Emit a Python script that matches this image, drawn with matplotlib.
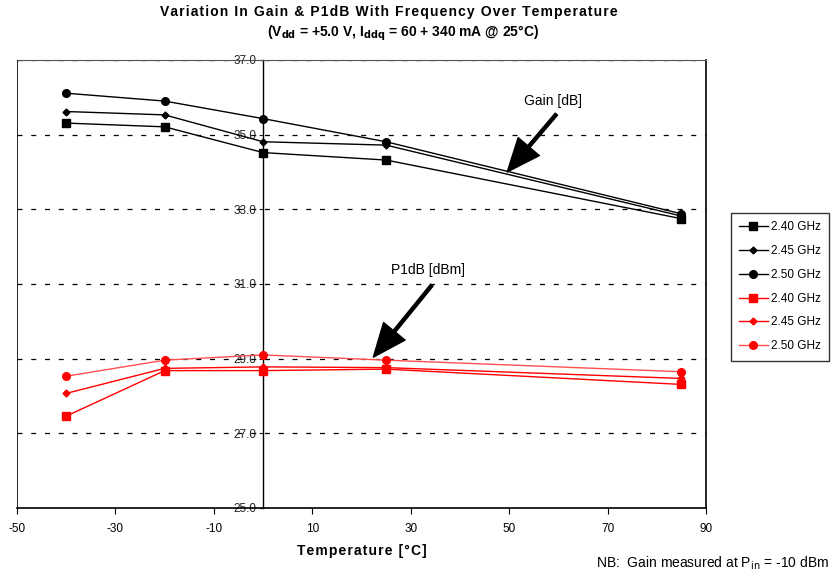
import matplotlib
matplotlib.use('agg')
import matplotlib.pyplot as plt

plt.rcParams['font.family'] = ['Liberation Sans', 'DejaVu Sans']
plt.rcParams['axes.unicode_minus'] = False

temps = [-40, -20, 0, 25, 85]
freqs = ["2.40 GHz", "2.45 GHz", "2.50 GHz"]

gain_240 = [35.31, 35.21, 34.52, 34.32, 32.75]
gain_245 = [35.62, 35.53, 34.81, 34.72, 32.82]
gain_250 = [36.11, 35.90, 35.43, 34.81, 32.88]

p1db_240 = [27.46, 28.68, 28.68, 28.72, 28.31]
p1db_245 = [28.07, 28.74, 28.78, 28.76, 28.47]
p1db_250 = [28.53, 28.96, 29.10, 28.96, 28.65]


def spaced(s):
    # rough letter spacing like the original chart title
    return "\u200a".join(s)


fig = plt.figure(figsize=(8.32, 5.72), dpi=100)
ax = fig.add_axes([17/832, 1-508/572, 689/832, 448/572])

markers = ['s', 'D', 'o']
msizes = [6, 3.5, 5.5]
for vals, lab, m, ms in zip([gain_240, gain_245, gain_250], freqs, markers, msizes):
    ax.plot(temps, vals, color='black', marker=m, ms=ms, lw=1, label=lab, zorder=3)
red_cols = ['#ff0000', '#ff0000', '#ff5050']
for vals, lab, m, ms, c in zip([p1db_240, p1db_245, p1db_250], freqs, markers, msizes, red_cols):
    ax.plot(temps, vals, color=c, marker=m, ms=ms, lw=1, label=lab,
            markerfacecolor='red', markeredgecolor='red', zorder=3)

ax.set_xlim(-50, 90)
ax.set_ylim(25, 37)
ax.set_xticks(range(-50, 91, 20))
ax.set_yticks(range(25, 38, 2))
ax.set_yticklabels(["%.1f" % v for v in range(25, 38, 2)])

# y axis sits at x = 0, box frame drawn separately
ax.spines['left'].set_position(('data', 0))
ax.spines['left'].set_linewidth(1)
ax.axvline(-50, color='black', lw=1.2, zorder=4)
ax.spines['right'].set_linewidth(1.2)
ax.spines['bottom'].set_linewidth(1.2)
ax.spines['top'].set_linewidth(0.8)
ax.spines['top'].set_color('#555555')

ax.yaxis.grid(True, color='black', linestyle=(0, (4, 7)), lw=0.9)
ax.set_axisbelow(True)
ax.tick_params(axis='y', direction='out', length=3, pad=2, labelsize=8.5, colors='#222222')
ax.tick_params(axis='x', direction='out', length=4, pad=7, labelsize=8.5)

ax.set_xlabel(spaced("Temperature [°C]"), fontsize=10, fontweight='bold', labelpad=6)

# annotations
arrow = dict(facecolor='black', edgecolor='black', width=2.2,
             headwidth=20, headlength=24, shrink=0.0)
ax.text(58.9, 35.9, "Gain [dB]", ha='center', va='center', fontsize=10)
ax.annotate("", xy=(49.6, 34.0), xytext=(59.6, 35.55), arrowprops=arrow, zorder=5)
ax.text(33.5, 31.37, "P1dB [dBm]", ha='center', va='center', fontsize=10)
ax.annotate("", xy=(22.4, 29.04), xytext=(34.3, 30.97), arrowprops=arrow, zorder=5)

fig.text(389/832, 1-12/572, spaced("Variation In Gain & P1dB With Frequency Over Temperature"),
         ha='center', va='center', fontsize=10, fontweight='bold')
fig.text(403/832, 1-33/572,
         r"(V$_{\mathbf{dd}}$ = +5.0 V, I$_{\mathbf{ddq}}$ = 60 + 340 mA @ 25°C)",
         ha='center', va='center', fontsize=10, fontweight='bold')
fig.text(829/832, 1-563/572, r"NB:  Gain measured at P$_{\mathrm{in}}$ = -10 dBm",
         ha='right', va='center', fontsize=10)

leg = fig.legend(loc='upper left', bbox_to_anchor=(731/832, 1-213/572), borderaxespad=0,
                 fontsize=8.5, frameon=True, fancybox=False, edgecolor='black',
                 handlelength=2.4, handletextpad=0.3, labelspacing=1.0, borderpad=0.7)
leg.get_frame().set_linewidth(1)

plt.savefig("out.png", dpi=100)
